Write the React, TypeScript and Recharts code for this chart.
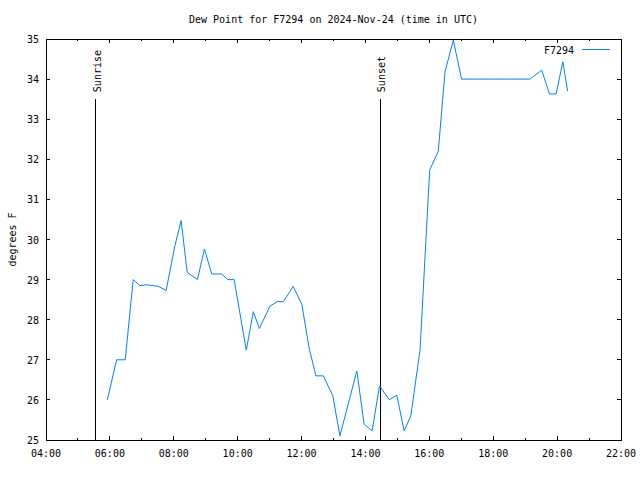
import React from 'react'
import {
  LineChart,
  Line,
  XAxis,
  YAxis,
  ReferenceLine,
  ReferenceArea,
} from 'recharts'

// hours (UTC, decimal) and dew point readings in degrees F
const hours = [
  5.92, 6.21, 6.48, 6.73, 6.94, 7.15, 7.36, 7.52, 7.76, 8.04, 8.23, 8.42,
  8.74, 8.96, 9.19, 9.5, 9.69, 9.89, 10.27, 10.49, 10.68, 11.01, 11.24, 11.43,
  11.74, 12.01, 12.24, 12.45, 12.68, 12.98, 13.2, 13.73, 13.96, 14.21, 14.44,
  14.75, 14.98, 15.21, 15.42, 15.71, 16.01, 16.28, 16.49, 16.75, 17.01, 17.5,
  18.0, 18.5, 19.15, 19.52, 19.76, 19.97, 20.18, 20.33,
]
const dewPoint = [
  26.0, 27.0, 27.0, 29.0, 28.85, 28.87, 28.85, 28.83, 28.73, 29.86, 30.47, 29.18,
  29.0, 29.76, 29.14, 29.14, 29.0, 29.0, 27.24, 28.2, 27.78, 28.34, 28.45, 28.45,
  28.83, 28.38, 27.28, 26.6, 26.6, 26.1, 25.1, 26.72, 25.39, 25.23, 26.35,
  26.0, 26.12, 25.23, 25.6, 27.25, 31.73, 32.2, 34.18, 34.97, 34.0, 34.0,
  34.0, 34.0, 34.0, 34.22, 33.63, 33.63, 34.43, 33.7,
]

const xTicks = [4, 5, 6, 7, 8, 9, 10, 11, 12, 13, 14, 15, 16, 17, 18, 19, 20, 21, 22]
const yTicks = [25, 26, 27, 28, 29, 30, 31, 32, 33, 34, 35]

const sunrise = 5.565
const sunset = 14.46
const sunLineTop = 33.5

const data = hours.map((t, i) => ({ t, dew: dewPoint[i] }))

const FONT = '"DejaVu Sans Mono", monospace'
const LINE_COLOR = '#0080ff'

// plot box
const LEFT = 46
const RIGHT = 621
const TOP = 39
const BOTTOM = 440

const pad = (h: number) => `${h < 10 ? '0' : ''}${h}:00`

function XTick({ x, payload }: any) {
  const major = payload.value % 2 === 0
  const len = major ? 4 : 2
  return (
    <g shapeRendering="crispEdges">
      <line x1={x} x2={x} y1={BOTTOM} y2={BOTTOM - len} stroke="#000" />
      <line x1={x} x2={x} y1={TOP} y2={TOP + len} stroke="#000" />
      {major && (
        <text x={x} y={BOTTOM + 17} textAnchor="middle" fontFamily={FONT} fontSize={10} fill="#000">
          {pad(payload.value)}
        </text>
      )}
    </g>
  )
}

function YTick({ y, payload }: any) {
  return (
    <g shapeRendering="crispEdges">
      <line x1={LEFT} x2={LEFT + 4} y1={y} y2={y} stroke="#000" />
      <line x1={RIGHT} x2={RIGHT - 4} y1={y} y2={y} stroke="#000" />
      <text x={LEFT - 7} y={y + 4} textAnchor="end" fontFamily={FONT} fontSize={10} fill="#000">
        {payload.value}
      </text>
    </g>
  )
}

function SunLabel({ viewBox, text }: any) {
  const x = viewBox.x + 5
  const y = viewBox.y - 7
  return (
    <text
      x={x}
      y={y}
      transform={`rotate(-90 ${x} ${y})`}
      textAnchor="start"
      fontFamily={FONT}
      fontSize={10}
      fill="#000"
    >
      {text}
    </text>
  )
}

export default function App() {
  return (
    <div style={{ position: 'absolute', top: 0, left: 0, width: 640, height: 480, background: '#fff' }}>
      <div
        style={{
          position: 'absolute',
          top: 13,
          left: LEFT,
          width: RIGHT - LEFT,
          textAlign: 'center',
          fontFamily: FONT,
          fontSize: 10,
          lineHeight: '14px',
        }}
      >
        Dew Point for F7294 on 2024-Nov-24 (time in UTC)
      </div>
      <div style={{ position: 'absolute', top: 43, left: 530, width: 80, height: 14 }}>
        <svg width={80} height={14} style={{ display: 'block' }}>
          <text x={44} y={11} textAnchor="end" fontFamily={FONT} fontSize={10} fill="#000">
            F7294
          </text>
          <line x1={52} x2={80} y1={6.5} y2={6.5} stroke={LINE_COLOR} />
        </svg>
      </div>
      <LineChart
        width={640}
        height={480}
        data={data}
        margin={{ top: TOP, right: 640 - RIGHT, bottom: 0, left: 0 }}
      >
        <XAxis
          dataKey="t"
          type="number"
          domain={[4, 22]}
          ticks={xTicks}
          interval={0}
          allowDataOverflow
          height={480 - BOTTOM}
          axisLine={false}
          tickLine={false}
          tickSize={0}
          tickMargin={0}
          tick={<XTick />}
        />
        <YAxis
          type="number"
          domain={[25, 35]}
          ticks={yTicks}
          interval={0}
          allowDataOverflow
          width={LEFT}
          axisLine={false}
          tickLine={false}
          tickSize={0}
          tickMargin={0}
          tick={<YTick />}
          label={{
            value: 'degrees F',
            angle: -90,
            position: 'insideLeft',
            offset: 12,
            style: { fontFamily: FONT, fontSize: 10, fill: '#000', textAnchor: 'middle' },
          }}
        />
        <ReferenceArea
          x1={4}
          x2={22}
          y1={25}
          y2={35}
          fill="none"
          fillOpacity={0}
          stroke="#000"
          strokeOpacity={1}
          shapeRendering="crispEdges"
        />
        <ReferenceLine
          segment={[{ x: sunrise, y: 25 }, { x: sunrise, y: sunLineTop }]}
          stroke="#000"
          shapeRendering="crispEdges"
          label={<SunLabel text="Sunrise" />}
        />
        <ReferenceLine
          segment={[{ x: sunset, y: 25 }, { x: sunset, y: sunLineTop }]}
          stroke="#000"
          shapeRendering="crispEdges"
          label={<SunLabel text="Sunset" />}
        />
        <Line
          dataKey="dew"
          name="F7294"
          type="linear"
          stroke={LINE_COLOR}
          strokeWidth={1}
          dot={false}
          activeDot={false}
          isAnimationActive={false}
        />
      </LineChart>
    </div>
  )
}
